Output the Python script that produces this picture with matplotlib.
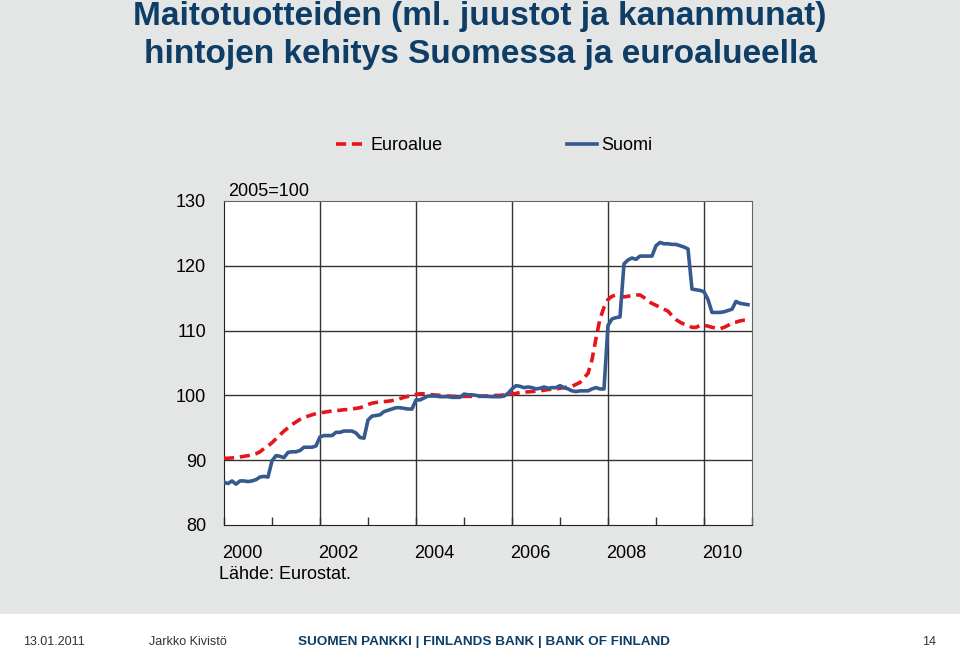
import numpy as np
import matplotlib
matplotlib.use("Agg")
import matplotlib.pyplot as plt
from matplotlib.patches import Rectangle
from matplotlib.lines import Line2D


# monthly index, 2005=100, Jan 2000 .. Dec 2010
suomi = [
 86.6, 86.4, 86.8, 86.3, 86.8, 86.8, 86.7, 86.8, 87.0, 87.4, 87.5, 87.4,
 89.9, 90.7, 90.6, 90.4, 91.2, 91.3, 91.3, 91.5, 92.0, 92.0, 92.0, 92.2,
 93.6, 93.8, 93.8, 93.8, 94.3, 94.3, 94.5, 94.5, 94.5, 94.2, 93.5, 93.4,
 96.2, 96.8, 96.9, 97.0, 97.5, 97.7, 97.9, 98.1, 98.1, 98.0, 97.9, 97.9,
 99.3, 99.3, 99.6, 99.9, 99.9, 99.9, 99.8, 99.8, 99.8, 99.7, 99.7, 99.7,
 100.2, 100.1, 100.1, 100.0, 99.9, 99.85, 99.85, 99.8, 99.8, 99.8, 99.9, 100.3,
 101.0, 101.5, 101.4, 101.2, 101.3, 101.2, 101.0, 101.1, 101.3, 101.1, 101.2, 101.2,
 101.5, 101.2, 101.0, 100.7, 100.6, 100.7, 100.7, 100.7, 101.0, 101.2, 101.0, 101.0,
 110.8, 111.8, 112.0, 112.1, 120.3, 120.9, 121.2, 121.0, 121.5, 121.5, 121.5, 121.5,
 123.1, 123.6, 123.4, 123.4, 123.3, 123.3, 123.1, 122.9, 122.6, 116.4, 116.3, 116.2,
 116.0, 114.8, 112.8, 112.8, 112.8, 112.9, 113.1, 113.3, 114.5, 114.2, 114.1, 114.0,
]

euroalue = [
 90.3, 90.3, 90.35, 90.4, 90.5, 90.6, 90.7, 90.8, 91.0, 91.3, 91.8, 92.2,
 92.7, 93.3, 93.9, 94.5, 95.0, 95.5, 95.9, 96.3, 96.6, 96.8, 97.0, 97.2,
 97.3, 97.4, 97.5, 97.6, 97.7, 97.7, 97.8, 97.8, 97.9, 98.0, 98.1, 98.3,
 98.6, 98.8, 98.9, 99.0, 99.05, 99.1, 99.2, 99.3, 99.5, 99.7, 99.85, 100.0,
 100.15, 100.25, 100.25, 100.2, 100.1, 100.05, 100.0, 99.9, 99.9, 99.85, 99.85, 99.85,
 99.85, 99.85, 99.85, 99.85, 99.85, 99.9, 99.9, 99.95, 100.0, 100.0, 100.1, 100.15,
 100.2, 100.3, 100.45, 100.5, 100.55, 100.6, 100.65, 100.7, 100.8, 100.9, 100.95, 101.0,
 101.1, 101.2, 101.3, 101.4, 101.7, 102.0, 102.7, 103.4, 105.5, 108.8, 111.8, 113.6,
 114.8, 115.3, 115.5, 115.3, 115.2, 115.3, 115.4, 115.5, 115.5, 115.1, 114.5, 114.2,
 113.9, 113.6, 113.3, 113.0, 112.3, 111.7, 111.3, 111.0, 110.8, 110.5, 110.5, 110.8,
 110.8, 110.7, 110.5, 110.4, 110.3, 110.5, 110.8, 111.2, 111.3, 111.5, 111.6, 111.6,
]

start_year = 2000
year_labels = ["2000", "2002", "2004", "2006", "2008", "2010"]
y_ticks = [80, 90, 100, 110, 120, 130]

title_lines = ["Maitotuotteiden (ml. juustot ja kananmunat)",
               "hintojen kehitys Suomessa ja euroalueella"]

BG = "#e4e5e5"
NAVY = "#0e3d66"
BLUE = "#36598f"
RED = "#e8141c"

plt.rcParams['font.family'] = ['Liberation Sans', 'DejaVu Sans']


def make_plot():
  fig = plt.figure(figsize=(9.6, 6.51), dpi=100)
  fig.patch.set_facecolor("white")
  # grey slide area, white footer strip
  fig.patches.append(Rectangle((0, 37 / 651.), 1, 1, transform=fig.transFigure,
                               facecolor=BG, edgecolor="none", zorder=-10))

  for i, line in enumerate(title_lines):
    fig.text(0.5, 1 - (17 + 37 * i) / 651., line, ha="center", va="center",
             fontsize=24, fontweight="bold", color=NAVY)

  ax = fig.add_axes([224 / 960., 1 - 525 / 651., 528 / 960., 324 / 651.])
  ax.set_facecolor("white")

  x = start_year + np.arange(len(suomi)) / 12.
  ax.plot(x, euroalue, color=RED, lw=2.6, dashes=(2.8, 1.6), zorder=3,
          solid_capstyle="butt")
  ax.plot(x, suomi, color=BLUE, lw=2.6, zorder=4, solid_joinstyle="round")

  ax.set_xlim(2000, 2011)
  ax.set_ylim(80, 130)

  ax.set_yticks(y_ticks)
  ax.set_yticklabels([str(v) for v in y_ticks])
  ax.tick_params(axis="y", length=0, pad=13, labelsize=13)

  ax.set_xticks(np.arange(2000, 2012), minor=False)
  ax.set_xticklabels([])
  ax.tick_params(axis="x", which="major", direction="in", length=6,
                 width=1, color="#333333")
  for lab in year_labels:
    ax.text(int(lab) - 0.045, 75.6, lab, ha="left", va="center", fontsize=13)

  for v in y_ticks[1:-1]:
    ax.axhline(v, color="#333333", lw=1, zorder=1)
  for yr in range(2002, 2011, 2):
    ax.axvline(yr, color="#333333", lw=1, zorder=1)

  for side in ["left", "bottom"]:
    ax.spines[side].set_color("#222222")
  for side in ["top", "right"]:
    ax.spines[side].set_color("#666666")

  ax.text(2000.08, 131.5, "2005=100", ha="left", va="center", fontsize=13)
  ax.text(1999.9, 72.4, "Lähde: Eurostat.", ha="left", va="center", fontsize=13)

  handles = [Line2D([], [], color=RED, lw=2.6, dashes=(2.8, 1.6)),
             Line2D([], [], color=BLUE, lw=2.6)]
  fig.legend(handles, ["Euroalue", "Suomi"], loc="center",
             bbox_to_anchor=(494 / 960., 1 - 146 / 651.), ncol=2, frameon=False,
             fontsize=13, handlelength=1.7, handletextpad=0.2,
             columnspacing=6.9)

  # footer
  fy = 1 - 642 / 651.
  fig.text(23 / 960., fy, "13.01.2011", fontsize=9, color="#333333", va="center")
  fig.text(149 / 960., fy, "Jarkko Kivistö", fontsize=9, color="#333333",
           va="center")
  fig.text(484 / 960., fy, "SUOMEN PANKKI | FINLANDS BANK | BANK OF FINLAND",
           fontsize=9.7, fontweight="bold", color=NAVY, ha="center", va="center")
  fig.text(936 / 960., fy, "14", fontsize=9, color="#333333", ha="right",
           va="center")

  fig.savefig("out.png", dpi=100, facecolor=fig.get_facecolor())


if __name__ == "__main__":
  make_plot()
